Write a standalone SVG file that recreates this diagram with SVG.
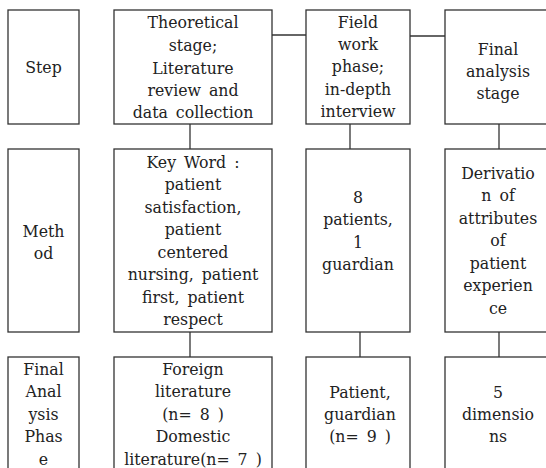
<svg xmlns="http://www.w3.org/2000/svg" width="546" height="468" viewBox="0 0 546 468">
<style>
rect{fill:#fff;stroke:#333;stroke-width:1.3}
line{stroke:#333;stroke-width:1.3}
text{font-family:'DejaVu Serif',serif;font-stretch:condensed;font-size:17.5px;fill:#222;text-anchor:middle;word-spacing:3px}
</style>
<rect x="0" y="0" width="546" height="468" style="stroke:none"/>
<g id="connectors">
<line x1="272" y1="35" x2="306" y2="35"/>
<line x1="410" y1="36" x2="445" y2="36"/>
<line x1="190" y1="124" x2="190" y2="149"/>
<line x1="350" y1="124" x2="350" y2="149"/>
<line x1="499" y1="124" x2="499" y2="149"/>
<line x1="190" y1="332" x2="190" y2="357"/>
<line x1="360" y1="332" x2="360" y2="357"/>
<line x1="499" y1="332" x2="499" y2="357"/>
</g>
<g id="step"><rect x="8" y="10" width="71" height="114"/><text x="43.5" y="73">Step</text></g>
<g id="theoretical"><rect x="114" y="10" width="158" height="114"/>
<text x="193" y="28">Theoretical</text><text x="193" y="51">stage;</text><text x="193" y="74">Literature</text><text x="193" y="96">review and</text><text x="193" y="118">data collection</text></g>
<g id="field"><rect x="306" y="10" width="104" height="114"/>
<text x="358" y="28">Field</text><text x="358" y="50">work</text><text x="358" y="72">phase;</text><text x="358" y="95">in-depth</text><text x="358" y="117">interview</text></g>
<g id="final"><rect x="445" y="10" width="106" height="114"/>
<text x="498" y="55">Final</text><text x="498" y="77">analysis</text><text x="498" y="99">stage</text></g>
<g id="method"><rect x="8" y="149" width="71" height="183"/><text x="43.5" y="237">Meth</text><text x="43.5" y="259">od</text></g>
<g id="keyword"><rect x="114" y="149" width="158" height="183"/>
<text x="193" y="168">Key Word :</text><text x="193" y="190">patient</text><text x="193" y="213">satisfaction,</text><text x="193" y="235">patient</text><text x="193" y="258">centered</text><text x="193" y="280">nursing, patient</text><text x="193" y="303">first, patient</text><text x="193" y="325">respect</text></g>
<g id="patients"><rect x="306" y="149" width="104" height="183"/>
<text x="358" y="203">8</text><text x="358" y="225">patients,</text><text x="358" y="248">1</text><text x="358" y="270">guardian</text></g>
<g id="derivation"><rect x="445" y="149" width="106" height="183"/>
<text x="498" y="179">Derivatio</text><text x="498" y="201">n of</text><text x="498" y="224">attributes</text><text x="498" y="246">of</text><text x="498" y="269">patient</text><text x="498" y="291">experien</text><text x="498" y="314">ce</text></g>
<g id="phase"><rect x="8" y="357" width="71" height="120"/>
<text x="43.5" y="375">Final</text><text x="43.5" y="397">Anal</text><text x="43.5" y="420">ysis</text><text x="43.5" y="442">Phas</text><text x="43.5" y="465">e</text></g>
<g id="literature"><rect x="114" y="357" width="158" height="120"/>
<text x="193" y="375">Foreign</text><text x="193" y="397">literature</text><text x="193" y="420">(n= 8 )</text><text x="193" y="442">Domestic</text><text x="193" y="465">literature(n= 7 )</text></g>
<g id="guardian"><rect x="306" y="357" width="104" height="120"/>
<text x="360" y="398">Patient,</text><text x="360" y="420">guardian</text><text x="360" y="442">(n= 9 )</text></g>
<g id="dimensions"><rect x="445" y="357" width="106" height="120"/>
<text x="498" y="398">5</text><text x="498" y="420">dimensio</text><text x="498" y="442">ns</text></g>
</svg>
